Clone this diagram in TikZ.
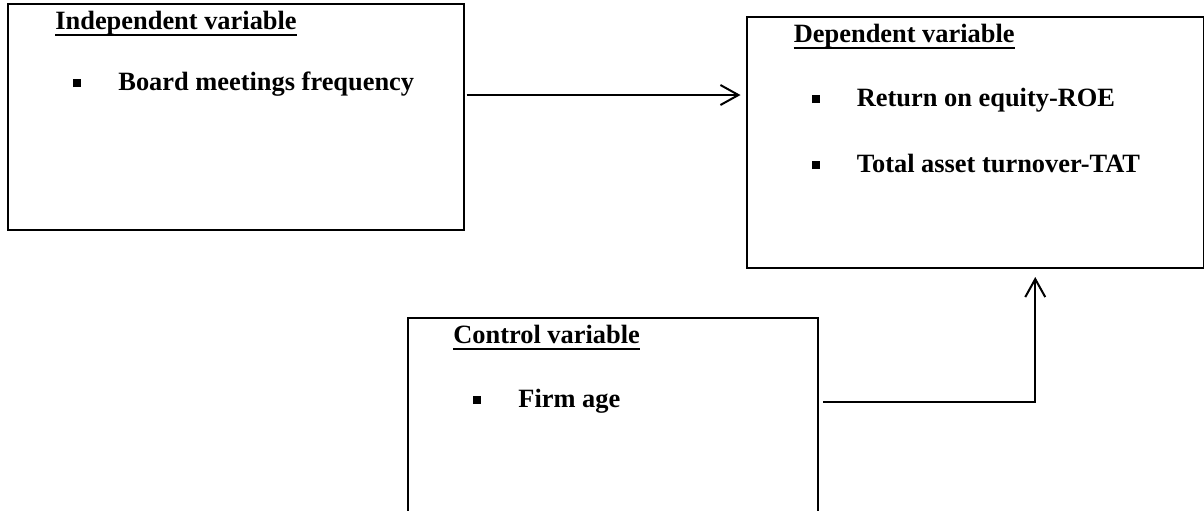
\documentclass[tikz,border=0pt]{standalone}
\usepackage{fontspec}
\setmainfont{Liberation Serif}
\usetikzlibrary{arrows.meta}

\newcommand{\sqbullet}{\rule[1.5pt]{4pt}{4pt}\hspace{18.5pt}}

\begin{document}
\begin{tikzpicture}[x=1pt, y=1pt, font=\fontsize{13.2pt}{16pt}\selectfont\bfseries]
    \tikzstyle{varbox} = [rectangle, draw, line width=1pt, inner sep=0pt, anchor=north west]
    \tikzstyle{vartitle} = [anchor=base west, inner sep=0pt]
    \tikzstyle{varitem} = [anchor=base west, inner sep=0pt]
    \tikzstyle{link} = [line width=1pt, -{Straight Barb[length=9pt, width=10pt]}]

    \clip (0,0) rectangle (602,-255);

    % Boxes
    \node[varbox, minimum width=227.75pt, minimum height=113pt] (indep) at (3.5,-1.5) {};
    \node[varbox, minimum width=228.75pt, minimum height=125.5pt] (dep) at (372.75,-8) {};
    \node[varbox, minimum width=205pt, minimum height=110pt] (ctrl) at (203.5,-158.5) {};

    % Titles
    \node[vartitle] (indtitle) at ([shift={(24,-13)}]indep.north west) {Independent variable};
    \node[vartitle] (deptitle) at ([shift={(24,-13)}]dep.north west) {Dependent variable};
    \node[vartitle] (ctrltitle) at ([shift={(23,-13)}]ctrl.north west) {Control variable};
    \foreach \t in {indtitle, deptitle, ctrltitle} {
        \draw[line width=1pt] ([yshift=-3pt]\t.base west) -- ([yshift=-3pt]\t.base east);
    }

    % Items
    \node[varitem] (bmf) at ([shift={(33,-43.5)}]indep.north west) {\sqbullet Board meetings frequency};
    \node[varitem] (roe) at ([shift={(33,-45)}]dep.north west) {\sqbullet Return on equity-ROE};
    \node[varitem] (tat) at ([shift={(33,-78)}]dep.north west) {\sqbullet Total asset turnover-TAT};
    \node[varitem] (age) at ([shift={(33,-45)}]ctrl.north west) {\sqbullet Firm age};

    % Links
    \coordinate (a1) at ([yshift=11pt]indep.east);
    \draw[link, shorten <=1pt, shorten >=2.5pt] (a1) -- (a1 -| dep.west);
    \coordinate (c1) at ([yshift=13pt]ctrl.east);
    \draw[link, shorten <=2pt, shorten >=4pt] (c1) -| ([xshift=30pt]dep.south);
\end{tikzpicture}
\end{document}
